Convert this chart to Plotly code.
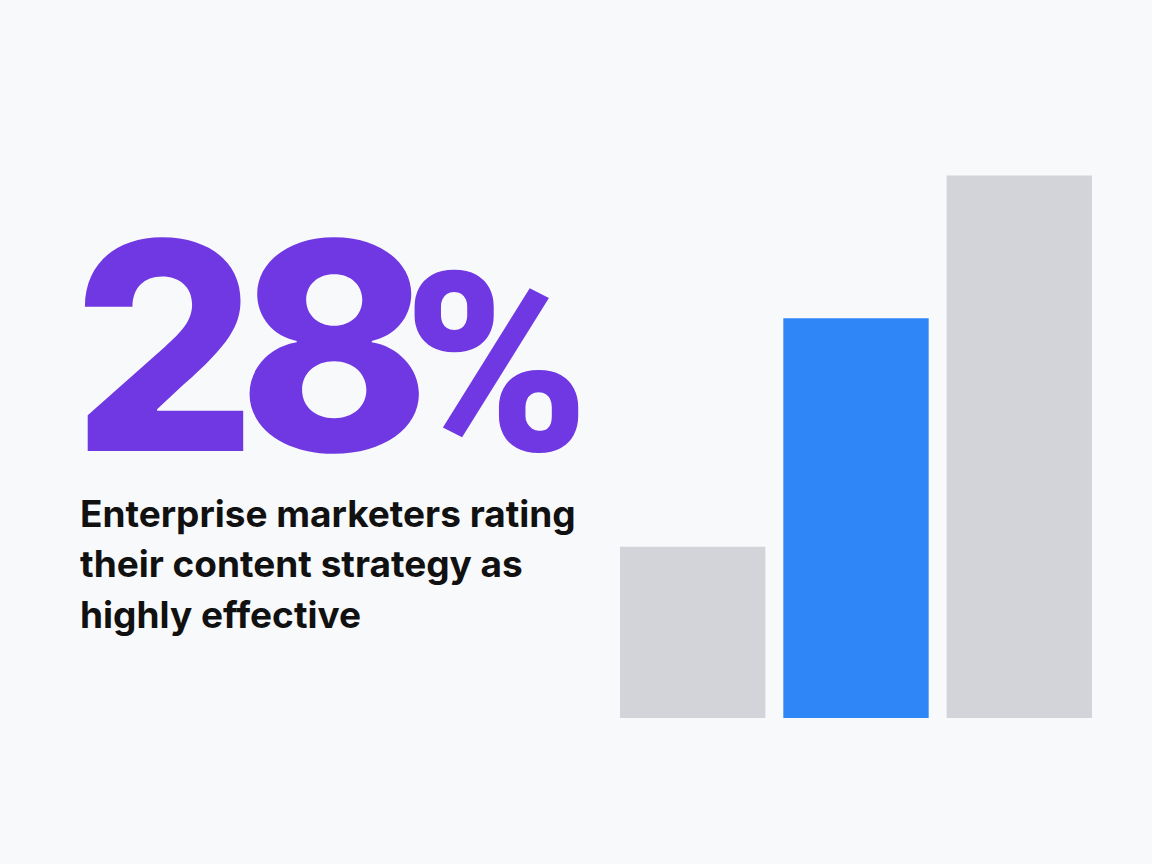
import plotly.graph_objects as go

# data
categories = ["A", "B", "C"]
values = [12, 28, 38]
bar_colors = ["#D3D4D9", "#2F86F6", "#D3D4D9"]
headline_number = "28"
headline_unit = "%"
caption_lines = ["Enterprise marketers rating", "their content strategy as", "highly effective"]

BG = "#F8F9FA"
W, H = 1152, 864

fig = go.Figure()
fig.add_trace(go.Bar(
    x=categories,
    y=values,
    marker=dict(color=bar_colors, line=dict(width=0)),
    hoverinfo="skip",
))

# tight headline: pull the digits together, smaller % in Roboto Black
headline = (
    f'<span style="letter-spacing:-19px">{headline_number[0]}</span>'
    f'<span style="letter-spacing:-27px">{headline_number[1:]}</span>'
    f'<span style="font-family:Roboto;font-weight:900;font-size:250px">'
    f'{headline_unit}</span>'
)

annotations = [
    dict(
        text=headline,
        x=70 / W, y=(H - 346) / H, xref="paper", yref="paper",
        xanchor="left", yanchor="middle", showarrow=False,
        font=dict(family="Inter", size=290, color="#7038E3", weight=800),
    )
]
# one annotation per caption line so the line spacing matches
for i, line in enumerate(caption_lines):
    annotations.append(dict(
        text=line,
        x=78 / W, y=(H - (513 + 50.5 * i)) / H, xref="paper", yref="paper",
        xanchor="left", yanchor="middle", align="left", showarrow=False,
        font=dict(family="Inter", size=37, color="#111111", weight=700),
    ))

fig.update_layout(
    width=W, height=H,
    paper_bgcolor=BG, plot_bgcolor=BG,
    margin=dict(l=0, r=0, t=0, b=0),
    showlegend=False,
    bargap=0.11,
    xaxis=dict(domain=[611 / W, 1101 / W], range=[-0.5, 2.5],
               visible=False, fixedrange=True),
    yaxis=dict(domain=[(H - 718) / H, (H - 147) / H], range=[0, 40],
               visible=False, fixedrange=True),
    annotations=annotations,
)

fig.write_html(
    "out.html",
    config={"displayModeBar": False},
    post_script="document.body.style.margin='0';"
                "document.body.style.background='" + BG + "';",
)
